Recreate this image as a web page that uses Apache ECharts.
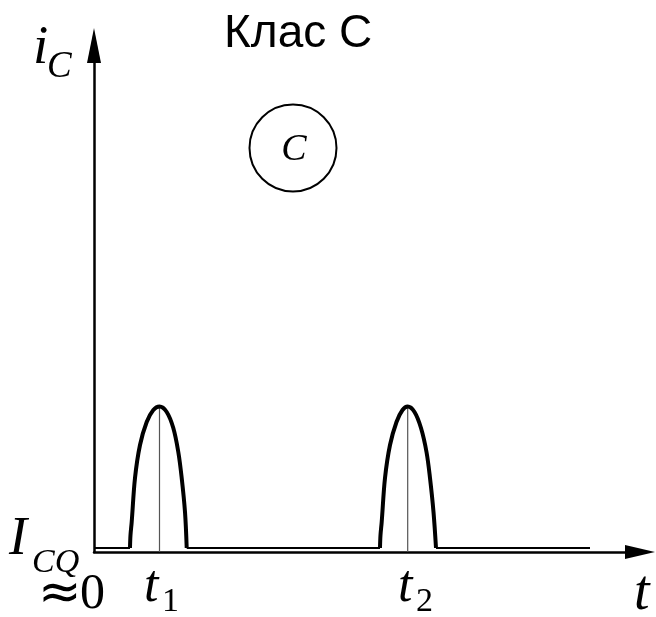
<!DOCTYPE html>
<html>
<head>
<meta charset="utf-8">
<script src="https://cdn.jsdelivr.net/npm/echarts@6/dist/echarts.min.js"></script>
<style>
html,body{margin:0;padding:0;background:#fff;}
#chart{width:656px;height:617px;}
</style>
</head>
<body>
<div id="chart"></div>
<script>
// ---- data (arbitrary time / current units) ----
const baselineLevel = 4;                       // I_CQ ≈ 0
const baselineStarts = [0, 92.7, 342];         // quiescent segments (t start)
const baselineEnds   = [36, 286, 496];         // quiescent segments (t end)

const pulse1T = [36, 36.5, 37.7, 41, 46, 52.7, 59.3, 65.5, 72.7, 79.3, 84.3, 87.7, 91, 92.7];
const pulse1I = [4, 17, 30, 74, 107, 130, 142, 145.5, 140, 124, 100, 74, 40, 4];
const pulse2T = [286, 286.5, 287.7, 291, 296, 302.5, 308.5, 313.7, 320.5, 327, 332.5, 336, 339.5, 342];
const pulse2I = [4, 17, 30, 74, 107, 130, 142, 145.5, 140, 124, 100, 74, 40, 4];

const peakTimes = [65.5, 313.7];               // t1, t2
const peakLevel = 145.5;
const tickSubs = ['1', '2'];

const classMarkT = [199];                      // circled "C" marker
const classMarkI = [404];
const classMarkLabel = ['C'];
const titleText = 'Клас C';

// ---- build ----
const chart = echarts.init(document.getElementById('chart'), null, {renderer: 'canvas'});
const SERIF = '"Liberation Serif", "DejaVu Serif", serif';
const SANS = '"Liberation Sans", Arial, sans-serif';
const DSANS = '"DejaVu Sans", sans-serif';

function zip(a, b) { return a.map((v, i) => [v, b[i]]); }

const series = [];
baselineStarts.forEach((s, i) => {
  series.push({
    type: 'line', data: [[s, baselineLevel], [baselineEnds[i], baselineLevel]],
    symbol: 'none', lineStyle: {color: '#000', width: 2}, z: 3, silent: true
  });
});
peakTimes.forEach((t) => {
  series.push({
    type: 'line', data: [[t, 0], [t, peakLevel]],
    symbol: 'none', lineStyle: {color: '#555', width: 1.2}, z: 2, silent: true
  });
});
[zip(pulse1T, pulse1I), zip(pulse2T, pulse2I)].forEach((d) => {
  series.push({
    type: 'line', data: d, smooth: 0.35, symbol: 'none',
    lineStyle: {color: '#000', width: 4, join: 'round'}, z: 4, silent: true
  });
});
series.push({
  type: 'scatter', data: zip(classMarkT, classMarkI), symbol: 'circle', symbolSize: 87,
  itemStyle: {color: 'rgba(0,0,0,0)', borderColor: '#000', borderWidth: 2, opacity: 1},
  label: {show: true, position: 'inside', formatter: (p) => classMarkLabel[p.dataIndex],
    fontFamily: SERIF, fontStyle: 'italic', fontSize: 38, color: '#000', offset: [1, 2]},
  silent: true, z: 5
});

function txt(str, x, baseline, fs, family, italic) {
  const k = family === SERIF ? 0.3375 : 0.3465;
  return {
    type: 'text', x: x, y: baseline - k * fs, silent: true,
    style: {text: str, fontSize: fs, fontFamily: family, fontStyle: italic ? 'italic' : 'normal',
      fill: '#000', align: 'left', verticalAlign: 'middle'}
  };
}

const graphics = [
  txt(titleText, 224, 50, 46, SANS, false),
  txt('i', 33, 67, 55, SERIF, true),
  txt('C', 47, 80, 37, SERIF, true),
  txt('I', 9, 558, 54, SERIF, true),
  txt('CQ', 32, 575, 34, SERIF, true),
  txt('≈', 38, 614, 52, DSANS, false),
  txt('0', 80, 612, 50, SERIF, false),
  txt('t', 144, 605, 52, SERIF, true),
  txt(tickSubs[0], 162, 614, 34, SERIF, false),
  txt('t', 398, 605, 52, SERIF, true),
  txt(tickSubs[1], 416, 614, 34, SERIF, false),
  txt('t', 634, 613, 56, SERIF, true)
];

chart.setOption({
  animation: false,
  backgroundColor: '#fff',
  grid: {left: 94, right: 16, top: 45.5, bottom: 65, containLabel: false},
  xAxis: {
    type: 'value', min: 0, max: 546,
    axisLine: {show: true, onZero: true, symbol: ['none', 'triangle'], symbolSize: [14, 30],
      lineStyle: {color: '#000', width: 2.5}},
    axisTick: {show: false}, axisLabel: {show: false}, splitLine: {show: false}
  },
  yAxis: {
    type: 'value', min: 0, max: 506.5,
    axisLine: {show: true, onZero: true, symbol: ['none', 'triangle'], symbolSize: [14, 35],
      lineStyle: {color: '#000', width: 2.5}},
    axisTick: {show: false}, axisLabel: {show: false}, splitLine: {show: false}
  },
  series: series,
  graphic: graphics
});
</script>
</body>
</html>
